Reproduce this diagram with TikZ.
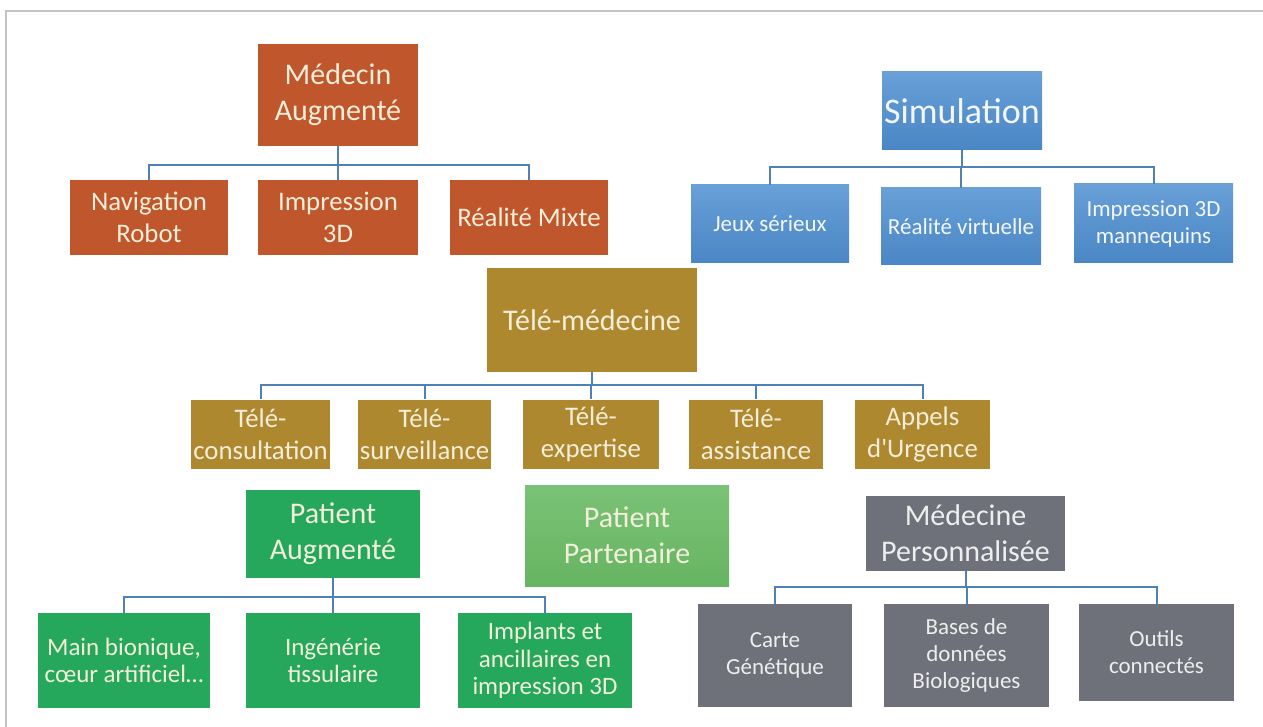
\documentclass[tikz,border=0pt]{standalone}
\usepackage{fontspec}
\setmainfont{Carlito}
\definecolor{rouille}{HTML}{C0562B}
\definecolor{bleuhaut}{HTML}{68A0D7}
\definecolor{bleubas}{HTML}{4A86C5}
\definecolor{ocre}{HTML}{AE882E}
\definecolor{vert}{HTML}{25A85C}
\definecolor{vertclairhaut}{HTML}{7AC276}
\definecolor{vertclairbas}{HTML}{66B562}
\definecolor{ardoise}{HTML}{6E7179}
\definecolor{creme}{HTML}{F3EEDA}
\definecolor{lien}{HTML}{4F80B8}
\definecolor{cadre}{HTML}{C4C4C4}
\begin{document}
\begin{tikzpicture}[x=0.5pt,y=-0.5pt,
  box/.style={rectangle,align=center,text=creme,inner sep=1pt},
  wh/.style 2 args={minimum width=#1*0.5pt,minimum height=#2*0.5pt},
  big/.style={font=\fontsize{15}{18}\selectfont},
  mid/.style={font=\fontsize{13.4}{16}\selectfont},
  small/.style={font=\fontsize{11.5}{13.5}\selectfont},
  smallg/.style={font=\fontsize{12.5}{13.8}\selectfont},
  orangebox/.style={box,fill=rouille},
  bluebox/.style={box,top color=bleuhaut,bottom color=bleubas,text=white!92!bleuhaut},
  goldbox/.style={box,fill=ocre},
  greenbox/.style={box,fill=vert},
  palebox/.style={box,top color=vertclairhaut,bottom color=vertclairbas},
  greybox/.style={box,fill=ardoise,text=white!88!ardoise},
  link/.style={draw=lien,line width=1pt}]
\useasboundingbox (0,0) rectangle (1263,727);
\draw[cadre,line width=1.2pt] (6,727)--(6,11)--(1263,11);
% Médecin augmenté
\node[orangebox,big,wh={160}{102}] (ma) at (338,95) {Médecin\\Augmenté};
\node[orangebox,mid,wh={158}{75}] (nav) at (149,217.5) {Navigation\\Robot};
\node[orangebox,mid,wh={160}{75}] (imp) at (338,217.5) {Impression\\3D};
\node[orangebox,mid,wh={158}{75}] (rmix) at (529,217.5) {Réalité Mixte};
\foreach \c in {nav,imp,rmix} \draw[link] (ma.south) -- ++(0,19) -| (\c.north);
% Simulation
\node[bluebox,font=\fontsize{18}{22}\selectfont,wh={160}{78}] (sim) at (962,111) {Simulation};
\node[bluebox,small,wh={158}{78}] (jeux) at (770,224) {Jeux sérieux};
\node[bluebox,small,wh={160}{77}] (rvirt) at (961,226.5) {Réalité virtuelle};
\node[bluebox,small,wh={159}{79}] (imp3d) at (1153.5,223.5) {Impression 3D\\mannequins};
\foreach \c in {jeux,rvirt,imp3d} \draw[link] (sim.south) -- ++(0,17) -| (\c.north);
% Télé-médecine
\node[goldbox,big,wh={210}{104}] (tm) at (592,320) {Télé-médecine};
\node[goldbox,mid,wh={135}{69}] (tcons) at (260.5,434) {Télé-\\consultation};
\node[goldbox,mid,wh={133}{69}] (tsurv) at (424.5,434) {Télé-\\surveillance};
\node[goldbox,mid,wh={136}{69}] (texp) at (591,434) {Télé-\\expertise};
\node[goldbox,mid,wh={134}{69}] (tass) at (756,434) {Télé-\\assistance};
\node[goldbox,mid,wh={135}{69}] (urg) at (922.5,434) {Appels\\d\textquotesingle Urgence};
\foreach \c in {tcons,tsurv,texp,tass,urg} \draw[link] (tm.south) -- ++(0,13) -| (\c.north);
% Patient augmenté
\node[greenbox,big,wh={174}{88}] (pa) at (333,534) {Patient\\Augmenté};
\node[greenbox,smallg,wh={172}{95}] (main) at (124,660.5) {Main bionique,\\cœur artificiel…};
\node[greenbox,smallg,wh={174}{95}] (tissu) at (333,660.5) {Ingénérie\\tissulaire};
\node[greenbox,smallg,wh={174}{95}] (impl) at (545,660.5) {Implants et\\ancillaires en\\impression 3D};
\foreach \c in {main,tissu,impl} \draw[link] (pa.south) -- ++(0,19) -| (\c.north);
\node[palebox,big,wh={204}{101}] (pp) at (627,535.5) {Patient\\Partenaire};
% Médecine personnalisée
\node[greybox,big,wh={199}{75}] (mp) at (965.5,533.5) {Médecine\\Personnalisée};
\node[greybox,small,wh={154}{103}] (carte) at (775,655.5) {Carte\\Génétique};
\node[greybox,small,wh={165}{103}] (bases) at (966.5,655.5) {Bases de\\données\\Biologiques};
\node[greybox,small,wh={155}{97}] (outils) at (1156.5,652.5) {Outils\\connectés};
\foreach \c in {carte,bases,outils} \draw[link] (mp.south) -- ++(0,16) -| (\c.north);
\end{tikzpicture}
\end{document}
